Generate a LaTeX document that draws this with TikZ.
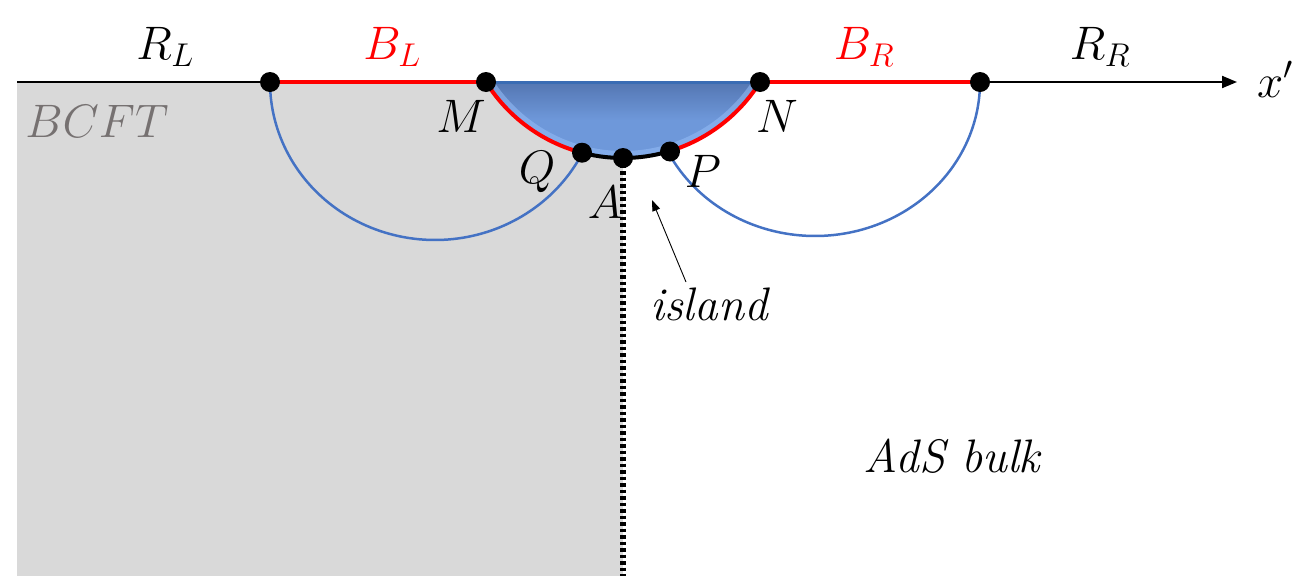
\RequirePackage{fix-cm}
\documentclass[tikz,border=0pt]{standalone}
\usetikzlibrary{arrows.meta}
\definecolor{grayfill}{HTML}{D9D9D9}
\definecolor{bcftgray}{HTML}{767171}
\definecolor{oblue}{HTML}{4472C4}
\definecolor{lensTop}{RGB}{84,118,178}
\definecolor{lensMid}{RGB}{110,152,218}
\definecolor{lensBot}{RGB}{150,190,248}
\definecolor{lensEdge}{RGB}{58,108,180}
\definecolor{pured}{RGB}{255,0,0}
\begin{document}
\begin{tikzpicture}[x=1pt,y=-1pt,
  dot/.style={circle,fill=black,inner sep=0pt,minimum size=20pt},
  lbl/.style={inner sep=0pt,anchor=base,font=\fontsize{47}{52}\selectfont},
  axisline/.style={line width=2pt,black},
  redline/.style={line width=4pt,pured},
  bluearc/.style={line width=2.5pt,oblue},
  dottedline/.style={line width=5.5pt,black,dash pattern=on 3.5pt off 3pt}]
\useasboundingbox (0,0) rectangle (1315,576);
% points
\coordinate (O) at (17,82);
\coordinate (E) at (1237,82);
\coordinate (L1) at (270,82);
\coordinate (M) at (486,82);
\coordinate (N) at (760,82);
\coordinate (R1) at (980,82);
\coordinate (Q) at (582,152.7);
\coordinate (P) at (670,151.5);
\coordinate (A) at (623,158);
\coordinate (Abot) at (623,576);
\coordinate (isltail) at (686,282);
\coordinate (islhead) at (652,200);
% BCFT region
\fill[grayfill] (17,82) rectangle (623,576);
% blue geodesic arcs
\draw[bluearc] plot[domain=180:333,samples=90] ({435+165*cos(\x)},{82-158*sin(\x)});
\draw[bluearc] plot[domain=208.5:360,samples=90] ({815+165*cos(\x)},{82-154*sin(\x)});
% island lens (circular segment)
\begin{scope}
\clip (M) -- plot[domain=211.97:328.03,samples=100] ({623+161.5*cos(\x)},{-3.5-161.5*sin(\x)}) -- cycle;
\fill[lensMid] (480,80) rectangle (766,162);
\shade[top color=lensTop, bottom color=lensMid] (480,82) rectangle (766,120);
\draw[line width=14pt,lensBot,opacity=0.55] plot[domain=211.97:328.03,samples=100] ({623+161.5*cos(\x)},{-3.5-161.5*sin(\x)});
\end{scope}
\draw[line width=3pt,lensEdge] (M) -- (N);
\draw[redline] plot[domain=211.97:255.3,samples=60] ({623+161.5*cos(\x)},{-3.5-161.5*sin(\x)});
\draw[redline] plot[domain=286.9:328.03,samples=60] ({623+161.5*cos(\x)},{-3.5-161.5*sin(\x)});
\draw[line width=4pt,black] plot[domain=255.3:286.9,samples=30] ({623+161.5*cos(\x)},{-3.5-161.5*sin(\x)});
% dotted line
\draw[dottedline] (A) -- (Abot);
% axis
\draw[axisline] (O) -- (L1);
\draw[axisline,-{Triangle[length=15pt,width=12pt]}] (R1) -- (E);
\draw[redline] (L1) -- (M);
\draw[redline] (N) -- (R1);
% island arrow
\draw[line width=0.9pt,-{Triangle[length=11pt,width=8pt]}] (isltail) -- (islhead);
% dots
\foreach \p in {L1,M,N,R1,Q,P,A} \node[dot] (d\p) at (\p) {};
% labels
\node[lbl] (tRL) at (165,59) {$R_L$};
\node[lbl,text=pured] (tBL) at (392,59) {$B_L$};
\node[lbl,text=pured] (tBR) at (864,59) {$B_R$};
\node[lbl] (tRR) at (1100,59) {$R_R$};
\node[lbl] (tx) at (1275,97) {$x'$};
\node[lbl] (tM) at (461,132) {$M$};
\node[lbl] (tN) at (777,132) {$N$};
\node[lbl] (tQ) at (537,183) {$Q$};
\node[lbl] (tP) at (703,187) {$P$};
\node[lbl] (tA) at (605,218) {$A$};
\node[lbl] (tisl) at (710,320) {\textit{island}};
\node[lbl] (tads) at (953,472) {\textit{AdS bulk}};
\node[lbl,text=bcftgray] (tbcft) at (97,137) {$BCFT$};
\end{tikzpicture}
\end{document}
